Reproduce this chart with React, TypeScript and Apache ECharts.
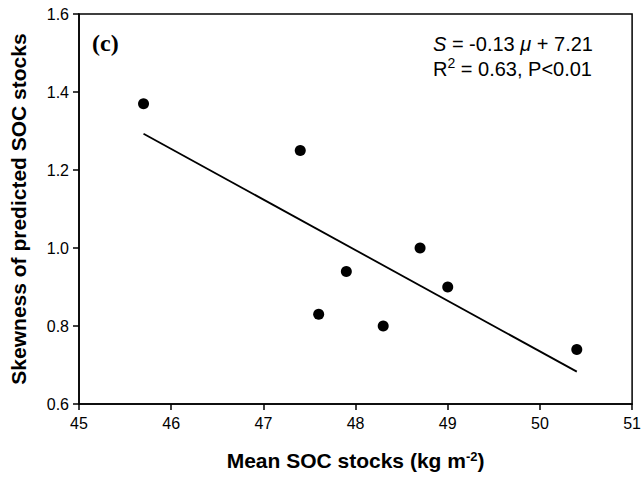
import React, { useEffect, useRef } from "react";
import * as echarts from "echarts";

const meanSOC = [45.7, 47.4, 47.6, 47.9, 48.3, 48.7, 49.0, 50.4];
const skewness = [1.37, 1.25, 0.83, 0.94, 0.8, 1.0, 0.9, 0.74];
const fitX = [45.7, 50.4];
const fitY = [1.293, 0.683];
const xTicks = { min: 45, max: 51, interval: 1 };
const yTicks = { min: 0.6, max: 1.6, interval: 0.2 };
const panelLabel = "(c)";
const eqLine1 = "{i|S} = -0.13 {i|μ} + 7.21";
const eqLine2 = "R{sup|2} = 0.63, P<0.01";

export default function App() {
  const ref = useRef<HTMLDivElement>(null);
  useEffect(() => {
    document.body.style.margin = "0";
    if (!ref.current) return;
    const chart = echarts.init(ref.current, undefined, { renderer: "svg" });
    const font = "Arial, 'Liberation Sans', sans-serif";
    chart.setOption({
      animation: false,
      backgroundColor: "#ffffff",
      grid: {
        left: 78,
        top: 14,
        right: 11,
        bottom: 77,
        show: true,
        borderColor: "#000",
        borderWidth: 1.5,
        backgroundColor: "transparent",
      },
      xAxis: {
        type: "value",
        min: xTicks.min,
        max: xTicks.max,
        interval: xTicks.interval,
        name: "Mean SOC stocks (kg m{sup|-2})",
        nameLocation: "middle",
        nameGap: 46,
        nameTextStyle: {
          fontFamily: font,
          fontWeight: "bold",
          fontSize: 21,
          color: "#000",
          rich: {
            sup: { fontFamily: font, fontWeight: "bold", fontSize: 13, verticalAlign: "top", color: "#000" },
          },
        },
        axisLine: { show: true, onZero: false, lineStyle: { color: "#000", width: 1.5 } },
        axisTick: { show: true, inside: false, length: 6, lineStyle: { color: "#000", width: 1.5 } },
        axisLabel: { fontFamily: font, fontSize: 16, color: "#000", margin: 11 },
        splitLine: { show: false },
      },
      yAxis: {
        type: "value",
        min: yTicks.min,
        max: yTicks.max,
        interval: yTicks.interval,
        name: "Skewness of predicted SOC stocks",
        nameLocation: "middle",
        nameGap: 50,
        nameTextStyle: { fontFamily: font, fontWeight: "bold", fontSize: 21, color: "#000" },
        axisLine: { show: true, onZero: false, lineStyle: { color: "#000", width: 1.5 } },
        axisTick: { show: true, inside: false, length: 6, lineStyle: { color: "#000", width: 1.5 } },
        axisLabel: {
          fontFamily: font,
          fontSize: 16,
          color: "#000",
          margin: 10,
          formatter: (v: number) => v.toFixed(1),
        },
        splitLine: { show: false },
      },
      series: [
        {
          type: "line",
          data: fitX.map((x, i) => [x, fitY[i]]),
          showSymbol: false,
          symbol: "none",
          lineStyle: { color: "#000", width: 1.8 },
          z: 2,
        },
        {
          type: "scatter",
          data: meanSOC.map((x, i) => [x, skewness[i]]),
          symbol: "circle",
          symbolSize: 11,
          itemStyle: { color: "#000", opacity: 1 },
          z: 3,
        },
      ],
      graphic: [
        {
          type: "text",
          left: 92,
          top: 31,
          style: {
            text: panelLabel,
            font: "bold 24px 'Times New Roman', 'Liberation Serif', serif",
            fill: "#000",
          },
        },
        {
          type: "text",
          left: 433,
          top: 31,
          style: {
            text: eqLine1 + "\n" + eqLine2,
            fontFamily: font,
            fontSize: 20,
            lineHeight: 25,
            fill: "#000",
            rich: {
              i: { fontFamily: font, fontSize: 20, fontStyle: "italic", lineHeight: 25, fill: "#000" },
              sup: { fontFamily: font, fontSize: 14, verticalAlign: "top", lineHeight: 25, fill: "#000" },
            },
          },
        },
      ],
    });
    return () => chart.dispose();
  }, []);
  return <div ref={ref} style={{ width: 644, height: 481 }} />;
}
